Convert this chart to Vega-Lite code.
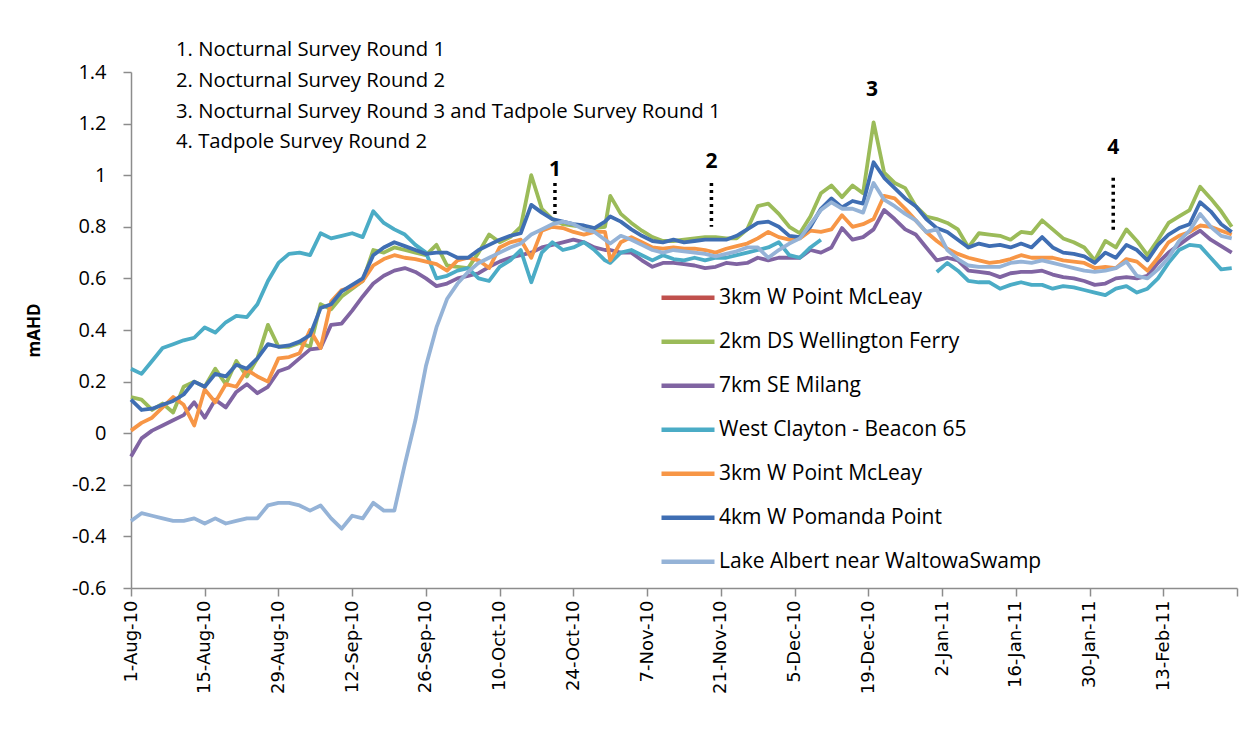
{
"$schema":"https://vega.github.io/schema/vega-lite/v6.json",
"width":1106,"height":516,
"autosize":{"type":"none"},
"padding":{"left":131,"top":72,"right":17,"bottom":163},
"background":"white",
"config":{"view":{"stroke":null},"font":"Open Sans",
"axisX":{"labelAngle":270,"labelFont":"DejaVu Sans","labelFontSize":18,"labelColor":"#000","labelPadding":4,"labelOverlap":false,"labelBound":false,"labelFlush":false,"tickSize":8,"tickColor":"#8c8c8c","domainColor":"#8c8c8c","domainWidth":1.5,"tickWidth":1.5,"grid":false},
"axisY":{"labelFont":"Open Sans","labelFontSize":20,"labelColor":"#000","labelPadding":17,"tickSize":8,"tickColor":"#8c8c8c","domainColor":"#8c8c8c","domainWidth":1.5,"tickWidth":1.5,"grid":false,"titleFont":"Open Sans","titleFontSize":17,"titleFontWeight":"bold","titleColor":"#000","titlePadding":28}
},
"layer":[
{
"data":{"values":[
{"d":"2010-08-01","s2":0.14,"s3":-0.09,"s4":0.25,"s5":0.01,"s6":0.13,"s7":-0.34},
{"d":"2010-08-03","s2":0.13,"s3":-0.02,"s4":0.23,"s5":0.04,"s6":0.09,"s7":-0.31},
{"d":"2010-08-05","s2":0.09,"s3":0.01,"s4":0.28,"s5":0.06,"s6":0.095,"s7":-0.32},
{"d":"2010-08-07","s2":0.115,"s3":0.03,"s4":0.33,"s5":0.10,"s6":0.11,"s7":-0.33},
{"d":"2010-08-09","s2":0.08,"s3":0.05,"s4":0.345,"s5":0.14,"s6":0.125,"s7":-0.34},
{"d":"2010-08-11","s2":0.18,"s3":0.07,"s4":0.36,"s5":0.11,"s6":0.15,"s7":-0.34},
{"d":"2010-08-13","s2":0.20,"s3":0.12,"s4":0.37,"s5":0.03,"s6":0.20,"s7":-0.33},
{"d":"2010-08-15","s2":0.18,"s3":0.06,"s4":0.41,"s5":0.17,"s6":0.18,"s7":-0.35},
{"d":"2010-08-17","s2":0.25,"s3":0.13,"s4":0.39,"s5":0.12,"s6":0.23,"s7":-0.33},
{"d":"2010-08-19","s2":0.19,"s3":0.10,"s4":0.43,"s5":0.19,"s6":0.22,"s7":-0.35},
{"d":"2010-08-21","s2":0.28,"s3":0.16,"s4":0.455,"s5":0.18,"s6":0.265,"s7":-0.34},
{"d":"2010-08-23","s2":0.22,"s3":0.19,"s4":0.45,"s5":0.245,"s6":0.25,"s7":-0.33},
{"d":"2010-08-25","s2":0.29,"s3":0.155,"s4":0.50,"s5":0.22,"s6":0.29,"s7":-0.33},
{"d":"2010-08-27","s2":0.42,"s3":0.18,"s4":0.59,"s5":0.20,"s6":0.345,"s7":-0.28},
{"d":"2010-08-29","s2":0.335,"s3":0.24,"s4":0.66,"s5":0.29,"s6":0.335,"s7":-0.27},
{"d":"2010-08-31","s2":0.335,"s3":0.255,"s4":0.695,"s5":0.295,"s6":0.34,"s7":-0.27},
{"d":"2010-09-02","s2":0.35,"s3":0.29,"s4":0.70,"s5":0.31,"s6":0.355,"s7":-0.28},
{"d":"2010-09-04","s2":0.335,"s3":0.325,"s4":0.69,"s5":0.40,"s6":0.38,"s7":-0.30},
{"d":"2010-09-06","s2":0.50,"s3":0.33,"s4":0.775,"s5":0.33,"s6":0.485,"s7":-0.28},
{"d":"2010-09-08","s2":0.48,"s3":0.42,"s4":0.755,"s5":0.51,"s6":0.50,"s7":-0.33},
{"d":"2010-09-10","s2":0.53,"s3":0.425,"s4":0.765,"s5":0.555,"s6":0.55,"s7":-0.37},
{"d":"2010-09-12","s2":0.56,"s3":0.475,"s4":0.775,"s5":0.565,"s6":0.575,"s7":-0.32},
{"d":"2010-09-14","s2":0.59,"s3":0.53,"s4":0.76,"s5":0.59,"s6":0.60,"s7":-0.33},
{"d":"2010-09-16","s2":0.71,"s3":0.58,"s4":0.86,"s5":0.65,"s6":0.69,"s7":-0.27},
{"d":"2010-09-18","s2":0.70,"s3":0.61,"s4":0.815,"s5":0.675,"s6":0.72,"s7":-0.30},
{"d":"2010-09-20","s2":0.72,"s3":0.63,"s4":0.79,"s5":0.69,"s6":0.74,"s7":-0.30},
{"d":"2010-09-22","s2":0.71,"s3":0.64,"s4":0.77,"s5":0.68,"s6":0.725,"s7":-0.12},
{"d":"2010-09-24","s2":0.70,"s3":0.625,"s4":0.73,"s5":0.675,"s6":0.71,"s7":0.05},
{"d":"2010-09-26","s2":0.69,"s3":0.60,"s4":0.70,"s5":0.665,"s6":0.695,"s7":0.26},
{"d":"2010-09-28","s2":0.73,"s3":0.57,"s4":0.60,"s5":0.655,"s6":0.70,"s7":0.41},
{"d":"2010-09-30","s2":0.65,"s3":0.58,"s4":0.61,"s5":0.63,"s6":0.70,"s7":0.52},
{"d":"2010-10-02","s2":0.645,"s3":0.60,"s4":0.63,"s5":0.67,"s6":0.68,"s7":0.58},
{"d":"2010-10-04","s2":0.64,"s3":0.61,"s4":0.64,"s5":0.68,"s6":0.68,"s7":0.625},
{"d":"2010-10-06","s2":0.70,"s3":0.62,"s4":0.60,"s5":0.67,"s6":0.71,"s7":0.66},
{"d":"2010-10-08","s2":0.77,"s3":0.645,"s4":0.59,"s5":0.64,"s6":0.73,"s7":0.68},
{"d":"2010-10-10","s2":0.74,"s3":0.665,"s4":0.645,"s5":0.72,"s6":0.75,"s7":0.70},
{"d":"2010-10-12","s2":0.76,"s3":0.68,"s4":0.67,"s5":0.74,"s6":0.765,"s7":0.72},
{"d":"2010-10-14","s2":0.80,"s3":0.69,"s4":0.71,"s5":0.75,"s6":0.775,"s7":0.735},
{"d":"2010-10-16","s2":1.0,"s3":0.70,"s4":0.585,"s5":0.68,"s6":0.885,"s7":0.77},
{"d":"2010-10-18","s2":0.87,"s3":0.72,"s4":0.70,"s5":0.785,"s6":0.855,"s7":0.79},
{"d":"2010-10-20","s2":0.83,"s3":0.73,"s4":0.74,"s5":0.80,"s6":0.83,"s7":0.81},
{"d":"2010-10-22","s2":0.81,"s3":0.74,"s4":0.71,"s5":0.795,"s6":0.82,"s7":0.82},
{"d":"2010-10-24","s2":0.805,"s3":0.75,"s4":0.72,"s5":0.78,"s6":0.81,"s7":0.81},
{"d":"2010-10-26","s2":0.80,"s3":0.74,"s4":0.74,"s5":0.77,"s6":0.805,"s7":0.79},
{"d":"2010-10-28","s2":0.795,"s3":0.72,"s4":0.71,"s5":0.78,"s6":0.795,"s7":0.78},
{"d":"2010-10-30","s2":0.80,"s3":0.71,"s4":0.67,"s5":0.78,"s6":0.82,"s7":0.75},
{"d":"2010-10-31","s2":0.92,"s3":0.71,"s4":0.66,"s5":0.67,"s6":0.84,"s7":0.735},
{"d":"2010-11-02","s2":0.85,"s3":0.70,"s4":0.70,"s5":0.74,"s6":0.82,"s7":0.765},
{"d":"2010-11-04","s2":0.815,"s3":0.70,"s4":0.71,"s5":0.76,"s6":0.79,"s7":0.75},
{"d":"2010-11-06","s2":0.785,"s3":0.67,"s4":0.69,"s5":0.74,"s6":0.765,"s7":0.73},
{"d":"2010-11-08","s2":0.76,"s3":0.645,"s4":0.67,"s5":0.72,"s6":0.745,"s7":0.71},
{"d":"2010-11-10","s2":0.745,"s3":0.66,"s4":0.69,"s5":0.715,"s6":0.74,"s7":0.70},
{"d":"2010-11-12","s2":0.745,"s3":0.66,"s4":0.675,"s5":0.72,"s6":0.75,"s7":0.71},
{"d":"2010-11-14","s2":0.75,"s3":0.655,"s4":0.67,"s5":0.715,"s6":0.74,"s7":0.705},
{"d":"2010-11-16","s2":0.755,"s3":0.65,"s4":0.68,"s5":0.715,"s6":0.745,"s7":0.70},
{"d":"2010-11-18","s2":0.76,"s3":0.64,"s4":0.67,"s5":0.71,"s6":0.75,"s7":0.695},
{"d":"2010-11-20","s2":0.76,"s3":0.645,"s4":0.68,"s5":0.70,"s6":0.75,"s7":0.685},
{"d":"2010-11-22","s2":0.755,"s3":0.66,"s4":0.68,"s5":0.715,"s6":0.75,"s7":0.695},
{"d":"2010-11-24","s2":0.755,"s3":0.655,"s4":0.69,"s5":0.725,"s6":0.765,"s7":0.705},
{"d":"2010-11-26","s2":0.79,"s3":0.66,"s4":0.70,"s5":0.735,"s6":0.79,"s7":0.72},
{"d":"2010-11-28","s2":0.88,"s3":0.68,"s4":0.71,"s5":0.755,"s6":0.815,"s7":0.72},
{"d":"2010-11-30","s2":0.89,"s3":0.67,"s4":0.72,"s5":0.78,"s6":0.82,"s7":0.68},
{"d":"2010-12-02","s2":0.85,"s3":0.68,"s4":0.74,"s5":0.76,"s6":0.80,"s7":0.71},
{"d":"2010-12-04","s2":0.80,"s3":0.68,"s4":0.69,"s5":0.75,"s6":0.765,"s7":0.735},
{"d":"2010-12-06","s2":0.775,"s3":0.68,"s4":0.68,"s5":0.755,"s6":0.76,"s7":0.755},
{"d":"2010-12-08","s2":0.84,"s3":0.71,"s4":0.72,"s5":0.785,"s6":0.80,"s7":0.81},
{"d":"2010-12-10","s2":0.93,"s3":0.70,"s4":0.75,"s5":0.78,"s6":0.87,"s7":0.865},
{"d":"2010-12-12","s2":0.96,"s3":0.72,"s4":null,"s5":0.79,"s6":0.91,"s7":0.895},
{"d":"2010-12-14","s2":0.915,"s3":0.795,"s4":null,"s5":0.845,"s6":0.875,"s7":0.87},
{"d":"2010-12-16","s2":0.96,"s3":0.75,"s4":null,"s5":0.80,"s6":0.90,"s7":0.87},
{"d":"2010-12-18","s2":0.93,"s3":0.76,"s4":null,"s5":0.81,"s6":0.89,"s7":0.855},
{"d":"2010-12-20","s2":1.205,"s3":0.79,"s4":null,"s5":0.83,"s6":1.05,"s7":0.97},
{"d":"2010-12-22","s2":1.01,"s3":0.865,"s4":null,"s5":0.92,"s6":0.99,"s7":0.905},
{"d":"2010-12-24","s2":0.97,"s3":0.83,"s4":null,"s5":0.91,"s6":0.95,"s7":0.88},
{"d":"2010-12-26","s2":0.95,"s3":0.79,"s4":null,"s5":0.87,"s6":0.91,"s7":0.85},
{"d":"2010-12-28","s2":0.88,"s3":0.77,"s4":null,"s5":0.825,"s6":0.88,"s7":0.825},
{"d":"2010-12-30","s2":0.84,"s3":0.72,"s4":null,"s5":0.78,"s6":0.83,"s7":0.78},
{"d":"2011-01-01","s2":0.83,"s3":0.67,"s4":0.625,"s5":0.745,"s6":0.795,"s7":0.79},
{"d":"2011-01-03","s2":0.815,"s3":0.68,"s4":0.66,"s5":0.715,"s6":0.78,"s7":0.71},
{"d":"2011-01-05","s2":0.79,"s3":0.67,"s4":0.63,"s5":0.695,"s6":0.75,"s7":0.675},
{"d":"2011-01-07","s2":0.72,"s3":0.63,"s4":0.59,"s5":0.68,"s6":0.72,"s7":0.65},
{"d":"2011-01-09","s2":0.775,"s3":0.625,"s4":0.585,"s5":0.67,"s6":0.735,"s7":0.645},
{"d":"2011-01-11","s2":0.77,"s3":0.62,"s4":0.585,"s5":0.66,"s6":0.725,"s7":0.645},
{"d":"2011-01-13","s2":0.765,"s3":0.605,"s4":0.56,"s5":0.665,"s6":0.73,"s7":0.645},
{"d":"2011-01-15","s2":0.75,"s3":0.62,"s4":0.575,"s5":0.675,"s6":0.72,"s7":0.66},
{"d":"2011-01-17","s2":0.78,"s3":0.625,"s4":0.585,"s5":0.69,"s6":0.735,"s7":0.665},
{"d":"2011-01-19","s2":0.775,"s3":0.625,"s4":0.575,"s5":0.68,"s6":0.72,"s7":0.66},
{"d":"2011-01-21","s2":0.825,"s3":0.63,"s4":0.575,"s5":0.68,"s6":0.76,"s7":0.67},
{"d":"2011-01-23","s2":0.79,"s3":0.615,"s4":0.56,"s5":0.68,"s6":0.72,"s7":0.66},
{"d":"2011-01-25","s2":0.755,"s3":0.605,"s4":0.57,"s5":0.67,"s6":0.70,"s7":0.65},
{"d":"2011-01-27","s2":0.74,"s3":0.60,"s4":0.565,"s5":0.665,"s6":0.695,"s7":0.64},
{"d":"2011-01-29","s2":0.72,"s3":0.59,"s4":0.555,"s5":0.66,"s6":0.685,"s7":0.63},
{"d":"2011-01-31","s2":0.67,"s3":0.575,"s4":0.545,"s5":0.64,"s6":0.66,"s7":0.625},
{"d":"2011-02-02","s2":0.745,"s3":0.58,"s4":0.535,"s5":0.645,"s6":0.70,"s7":0.63},
{"d":"2011-02-04","s2":0.72,"s3":0.60,"s4":0.56,"s5":0.64,"s6":0.68,"s7":0.64},
{"d":"2011-02-06","s2":0.79,"s3":0.605,"s4":0.57,"s5":0.675,"s6":0.73,"s7":0.665},
{"d":"2011-02-08","s2":0.745,"s3":0.60,"s4":0.545,"s5":0.665,"s6":0.71,"s7":0.61},
{"d":"2011-02-10","s2":0.69,"s3":0.61,"s4":0.56,"s5":0.63,"s6":0.67,"s7":0.60},
{"d":"2011-02-12","s2":0.75,"s3":0.66,"s4":0.60,"s5":0.68,"s6":0.73,"s7":0.635},
{"d":"2011-02-14","s2":0.815,"s3":0.70,"s4":0.66,"s5":0.74,"s6":0.77,"s7":0.68},
{"d":"2011-02-16","s2":0.84,"s3":0.73,"s4":0.71,"s5":0.765,"s6":0.795,"s7":0.745},
{"d":"2011-02-18","s2":0.865,"s3":0.76,"s4":0.73,"s5":0.78,"s6":0.81,"s7":0.785},
{"d":"2011-02-20","s2":0.955,"s3":0.785,"s4":0.725,"s5":0.805,"s6":0.895,"s7":0.85},
{"d":"2011-02-22","s2":0.91,"s3":0.75,"s4":0.68,"s5":0.80,"s6":0.86,"s7":0.80},
{"d":"2011-02-24","s2":0.86,"s3":0.725,"s4":0.635,"s5":0.785,"s6":0.81,"s7":0.765},
{"d":"2011-02-26","s2":0.80,"s3":0.70,"s4":0.64,"s5":0.77,"s6":0.78,"s7":0.755}
]},
"transform":[{"fold":["s2","s3","s4","s5","s6","s7"],"as":["s","v"]}],
"mark":{"type":"line","strokeWidth":3.8,"strokeJoin":"round","invalid":"break-paths-filter-domains"},
"encoding":{
"x":{"field":"d","type":"temporal","title":null,
"scale":{"type":"utc","domain":[{"year":2010,"month":8,"date":1,"utc":true},{"year":2011,"month":2,"date":27,"utc":true}]},
"axis":{"values":[{"year":2010,"month":8,"date":1,"utc":true},{"year":2010,"month":8,"date":15,"utc":true},{"year":2010,"month":8,"date":29,"utc":true},{"year":2010,"month":9,"date":12,"utc":true},{"year":2010,"month":9,"date":26,"utc":true},{"year":2010,"month":10,"date":10,"utc":true},{"year":2010,"month":10,"date":24,"utc":true},{"year":2010,"month":11,"date":7,"utc":true},{"year":2010,"month":11,"date":21,"utc":true},{"year":2010,"month":12,"date":5,"utc":true},{"year":2010,"month":12,"date":19,"utc":true},{"year":2011,"month":1,"date":2,"utc":true},{"year":2011,"month":1,"date":16,"utc":true},{"year":2011,"month":1,"date":30,"utc":true},{"year":2011,"month":2,"date":13,"utc":true},{"year":2011,"month":2,"date":27,"utc":true}],
"labelExpr":"(utcmonth(datum.value)==1 && utcdate(datum.value)==27) ? '' : utcFormat(datum.value, '%-d-%b-%y')"}},
"y":{"field":"v","type":"quantitative","title":"mAHD",
"scale":{"domain":[-0.6,1.4],"nice":false,"zero":false},
"axis":{"values":[-0.6,-0.4,-0.2,0,0.2,0.4,0.6,0.8,1,1.2,1.4],"labelExpr":"'' + datum.value"}},
"color":{"field":"s","type":"nominal",
"scale":{"domain":["s1","s2","s3","s4","s5","s6","s7"],"range":["#C0504D","#9BBB59","#8064A2","#4BACC6","#F79646","#3F6EB3","#95B3D7"]},
"legend":{"orient":"none","legendX":528,"legendY":204,"title":null,"symbolType":"stroke","symbolSize":2809,"symbolStrokeWidth":4.5,"clipHeight":43.5,"rowPadding":0,"padding":0,"labelOffset":2,"labelFont":"Open Sans","labelFontSize":21,"labelColor":"#000","labelLimit":600,
"labelExpr":"datum.value=='s1'?'3km W Point McLeay':datum.value=='s2'?'2km DS Wellington Ferry':datum.value=='s3'?'7km SE Milang':datum.value=='s4'?'West Clayton - Beacon 65':datum.value=='s5'?'3km W Point McLeay':datum.value=='s6'?'4km W Pomanda Point':'Lake Albert near WaltowaSwamp'"}}
}
},
{
"data":{"values":[
{"d":"2010-10-20T12:00:00Z","y1":0.97,"y2":0.845},
{"d":"2010-11-19T05:00:00Z","y1":0.97,"y2":0.80},
{"d":"2011-02-03T12:00:00Z","y1":0.99,"y2":0.78}
]},
"mark":{"type":"rule","color":"#000","strokeWidth":3.5,"strokeDash":[3,4],"strokeCap":"butt"},
"encoding":{
"x":{"field":"d","type":"temporal","title":null,"scale":{"type":"utc","domain":[{"year":2010,"month":8,"date":1,"utc":true},{"year":2011,"month":2,"date":27,"utc":true}]}},
"y":{"field":"y1","type":"quantitative","title":"mAHD","scale":{"domain":[-0.6,1.4],"nice":false,"zero":false}},
"y2":{"field":"y2"}
}
},
{
"data":{"values":[
{"d":"2010-10-20T12:00:00Z","v":1.02,"t":"1"},
{"d":"2010-11-19T05:00:00Z","v":1.05,"t":"2"},
{"d":"2010-12-19T17:00:00Z","v":1.33,"t":"3"},
{"d":"2011-02-03T12:00:00Z","v":1.105,"t":"4"}
]},
"mark":{"type":"text","font":"Open Sans","fontSize":21,"fontWeight":"bold","color":"#000","align":"center","baseline":"middle"},
"encoding":{
"x":{"field":"d","type":"temporal","title":null,"scale":{"type":"utc","domain":[{"year":2010,"month":8,"date":1,"utc":true},{"year":2011,"month":2,"date":27,"utc":true}]}},
"y":{"field":"v","type":"quantitative","title":"mAHD","scale":{"domain":[-0.6,1.4],"nice":false,"zero":false}},
"text":{"field":"t"}
}
},
{
"data":{"values":[
{"d":"2010-08-09T13:00:00Z","v":1.4845,"t":"1. Nocturnal Survey Round 1"},
{"d":"2010-08-09T13:00:00Z","v":1.364,"t":"2. Nocturnal Survey Round 2"},
{"d":"2010-08-09T13:00:00Z","v":1.244,"t":"3. Nocturnal Survey Round 3 and Tadpole Survey Round 1"},
{"d":"2010-08-09T13:00:00Z","v":1.128,"t":"4. Tadpole Survey Round 2"}
]},
"mark":{"type":"text","font":"Open Sans","fontSize":20.3,"color":"#000","align":"left","baseline":"middle"},
"encoding":{
"x":{"field":"d","type":"temporal","title":null,"scale":{"type":"utc","domain":[{"year":2010,"month":8,"date":1,"utc":true},{"year":2011,"month":2,"date":27,"utc":true}]}},
"y":{"field":"v","type":"quantitative","title":"mAHD","scale":{"domain":[-0.6,1.4],"nice":false,"zero":false}},
"text":{"field":"t"}
}
}
]
}
